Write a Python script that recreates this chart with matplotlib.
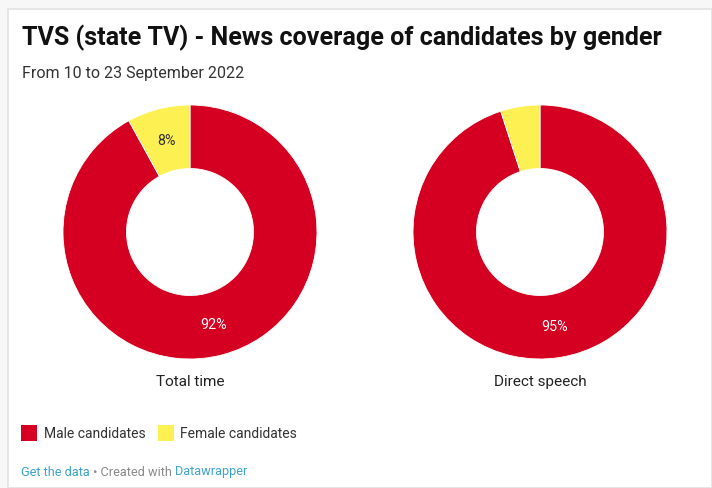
import matplotlib.pyplot as plt
from matplotlib.patches import Rectangle

plt.rcParams['font.family'] = ['Roboto', 'DejaVu Sans']

groups = ["Total time", "Direct speech"]
categories = ["Male candidates", "Female candidates"]
male_share = [92, 95]
female_share = [8, 5]
show_female_label = [True, False]

red = "#d50021"
yellow = "#fdf052"

W, H = 712, 489
fig = plt.figure(figsize=(W / 100, H / 100), dpi=100)
fig.patch.set_facecolor("#f7f7f7")

# white card with light border
card = Rectangle((8 / W, 0), 1 - 8 / W, 1 - 10 / H, transform=fig.transFigure,
                 facecolor="white", edgecolor="#e2e2e2", linewidth=1.2, zorder=-5)
fig.patches.append(card)

fig.text(22 / W, 1 - 38 / H, "TVS (state TV) - News coverage of candidates by gender",
         fontsize=18.1, fontweight="bold", color="#111111", va="center", ha="left")
fig.text(22 / W, 1 - 74 / H, "From 10 to 23 September 2022",
         fontsize=11.5, color="#333333", va="center", ha="left")

centers_x = [190, 540]
cy = 233
R = 127
for i, g in enumerate(groups):
    size = 2 * R + 4
    ax = fig.add_axes([(centers_x[i] - size / 2) / W, 1 - (cy + size / 2) / H, size / W, size / H])
    ax.set_zorder(2)
    vals = [male_share[i], female_share[i]]
    labels = [f"{male_share[i]}%", f"{female_share[i]}%" if show_female_label[i] else ""]
    wedges, texts = ax.pie(vals, colors=[red, yellow], startangle=90, counterclock=False,
                           radius=1.0, labels=labels, labeldistance=0.75,
                           wedgeprops=dict(width=0.5, edgecolor="white", linewidth=0.6),
                           textprops=dict(fontsize=10.3))
    texts[0].set_color("white")
    texts[1].set_color("#333333")
    for t in texts:
        t.set_ha("center")
        t.set_va("center")
    ax.set_xlim(-size / 2 / R, size / 2 / R)
    ax.set_ylim(-size / 2 / R, size / 2 / R)
    ax.set_aspect("equal")
    ax.axis("off")
    fig.text(centers_x[i] / W, 1 - 382 / H, g, fontsize=11, color="#222222",
             ha="center", va="center")

# legend
colors = [red, yellow]
text_x = [44, 180]
box_x = [21, 158]
for j, c in enumerate(categories):
    fig.patches.append(Rectangle((box_x[j] / W, 1 - 442 / H), 16 / W, 16 / H,
                                 transform=fig.transFigure, facecolor=colors[j],
                                 edgecolor="none"))
    fig.text(text_x[j] / W, 1 - 434 / H, c, fontsize=10, color="#333333",
             ha="left", va="center")

# footer
fy = 1 - 472 / H
t1 = fig.text(21 / W, fy, "Get the data", fontsize=9.2, color="#3da4cc", ha="left", va="center")
fig.canvas.draw()
r = fig.canvas.get_renderer()
bb = t1.get_window_extent(r)
t2 = fig.text(bb.x1 / W, fy, " \u2022 Created with ", fontsize=9.2, color="#8a8a8a",
              ha="left", va="center")
bb2 = t2.get_window_extent(r)
fig.text(bb2.x1 / W, fy, "Datawrapper", fontsize=9.2, color="#3da4cc", ha="left", va="center")

fig.savefig("out.png", dpi=100, facecolor=fig.get_facecolor())
